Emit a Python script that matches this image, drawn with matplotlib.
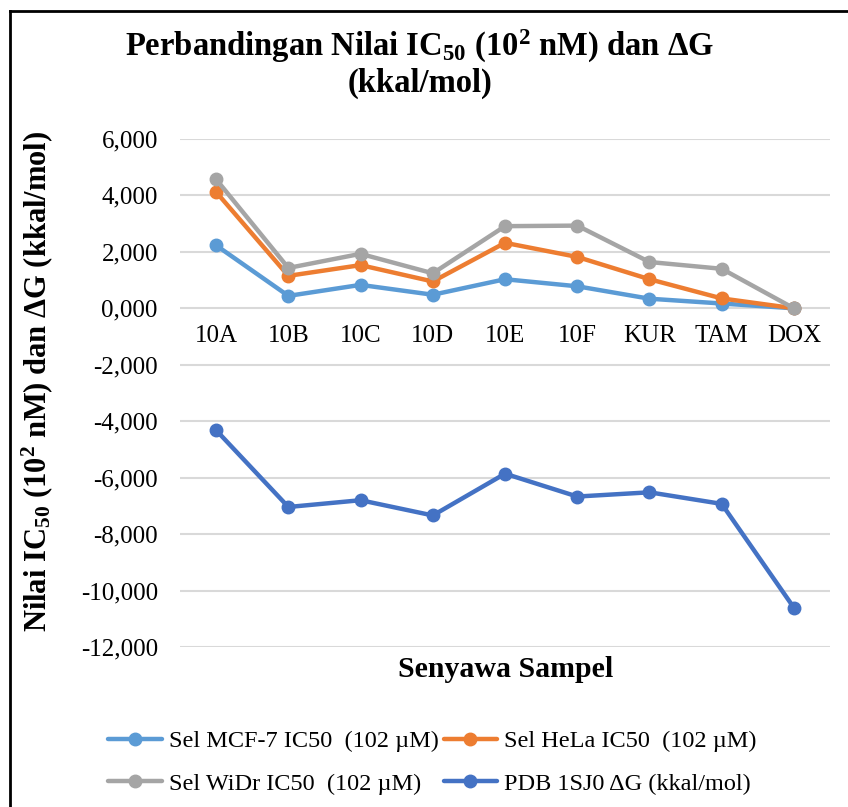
import matplotlib
matplotlib.use("Agg")
import matplotlib.pyplot as plt
from matplotlib.lines import Line2D

plt.rcParams['font.family'] = ['Liberation Serif', 'DejaVu Serif']
plt.rcParams['mathtext.fontset'] = 'custom'
plt.rcParams['mathtext.rm'] = 'Liberation Serif'
plt.rcParams['mathtext.it'] = 'Liberation Serif:italic'
plt.rcParams['mathtext.bf'] = 'Liberation Serif:bold'

# Data
categories = ["10A", "10B", "10C", "10D", "10E", "10F", "KUR", "TAM", "DOX"]
mcf7 = [2.23, 0.44, 0.83, 0.48, 1.03, 0.78, 0.34, 0.17, 0.0]
hela = [4.12, 1.15, 1.53, 0.95, 2.32, 1.82, 1.03, 0.35, 0.0]
widr = [4.57, 1.43, 1.93, 1.24, 2.91, 2.93, 1.64, 1.40, 0.0]
dg_1sj0 = [-4.32, -7.04, -6.80, -7.34, -5.86, -6.67, -6.52, -6.93, -10.61]
y_ticks = [6, 4, 2, 0, -2, -4, -6, -8, -10, -12]

series_labels = [
    "Sel MCF-7 IC50  (102 µM)",
    "Sel HeLa IC50  (102 µM)",
    "Sel WiDr IC50  (102 µM)",
    "PDB 1SJ0 ΔG (kkal/mol)",
]
colors = ["#5B9BD5", "#ED7D31", "#A5A5A5", "#4472C4"]

fig = plt.figure(figsize=(8.48, 8.07), dpi=100)
ax = fig.add_axes([0.2123, 0.1983, 0.7665, 0.6295])

x = list(range(len(categories)))
handles = []
for vals, lab, col in zip([mcf7, hela, widr, dg_1sj0], series_labels, colors):
    h, = ax.plot(x, [v * 1000 for v in vals], color=col, lw=3.2, marker='o',
                 ms=9, label=lab, solid_capstyle='round', zorder=3)
    handles.append(h)

ax.set_xlim(-0.5, len(categories) - 0.5)
ax.set_ylim(-12000, 6000)
ax.set_yticks([t * 1000 for t in y_ticks])
ax.set_yticklabels([f"{t},000" for t in y_ticks], fontsize=18)
ax.grid(axis='y', color='#D9D9D9', lw=1.5, zorder=0)
ax.set_axisbelow(True)
for s in ['left', 'right', 'top']:
    ax.spines[s].set_visible(False)
ax.spines['bottom'].set_position(('data', 0))
ax.spines['bottom'].set_visible(False)
ax.set_xticks(x)
ax.set_xticklabels(categories, fontsize=18)
ax.tick_params(axis='both', length=0)
ax.tick_params(axis='x', pad=12)
ax.tick_params(axis='y', pad=16)

fig.text(0.495, 0.943, r"Perbandingan Nilai IC$_\mathbf{50}$ (10$^\mathbf{2}$ nM) dan ΔG",
         ha='center', va='center', fontsize=23.5, fontweight='bold')
fig.text(0.495, 0.897, "(kkal/mol)", ha='center', va='center',
         fontsize=23.5, fontweight='bold')
fig.text(0.044, 0.527, r"Nilai IC$_\mathbf{50}$ (10$^\mathbf{2}$ nM) dan ΔG (kkal/mol)",
         ha='center', va='center', rotation=90, fontsize=22, fontweight='bold')
fig.text(0.596, 0.170, "Senyawa Sampel", ha='center', va='center',
         fontsize=21.5, fontweight='bold')

order = [0, 2, 1, 3]
fig.legend([handles[i] for i in order], [series_labels[i] for i in order],
           ncol=2, loc='center', bbox_to_anchor=(0.51, 0.055), frameon=False,
           fontsize=17.5, handlelength=2.2, handletextpad=0.3, columnspacing=0.2,
           labelspacing=0.85)

# chart frame
fig.add_artist(Line2D([10 / 848, 10 / 848], [0, 1 - 11 / 807], color='black', lw=2,
                      transform=fig.transFigure))
fig.add_artist(Line2D([10 / 848, 1], [1 - 11 / 807, 1 - 11 / 807], color='black', lw=2,
                      transform=fig.transFigure))

fig.savefig("out.png", dpi=100)
